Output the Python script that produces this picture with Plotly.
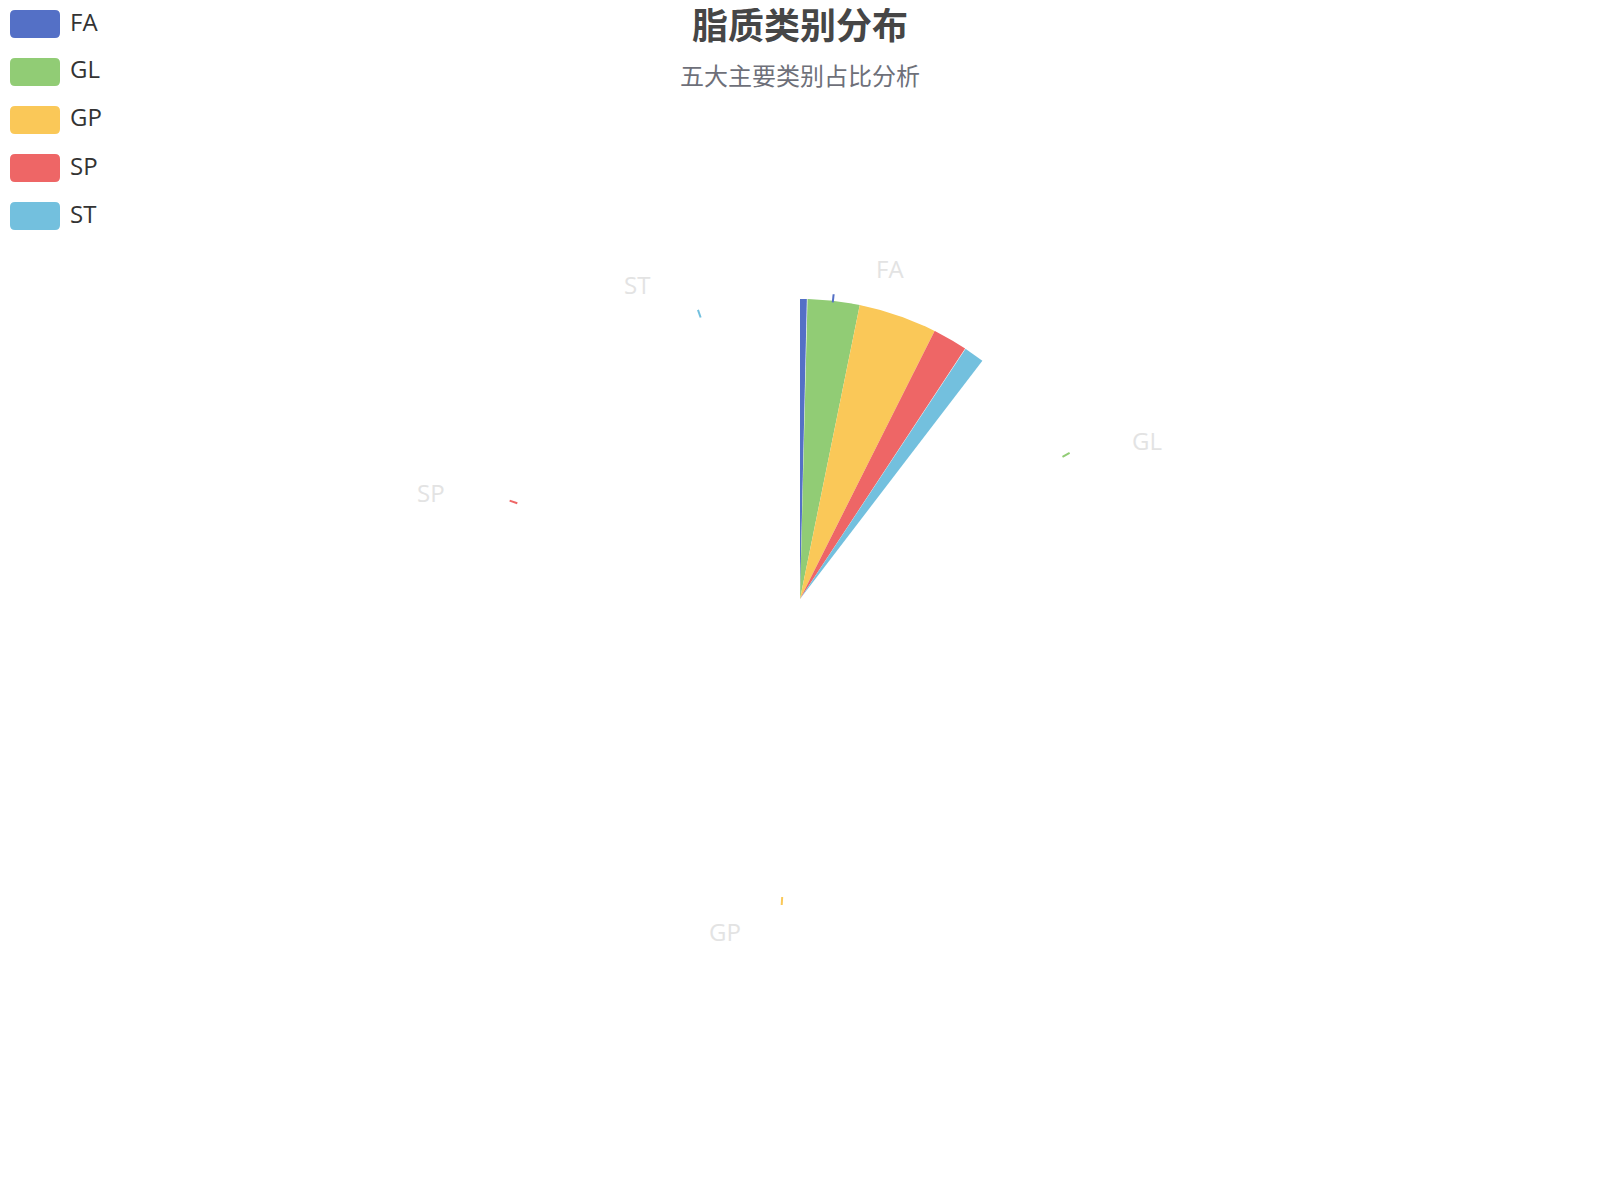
import numpy as np
import plotly.graph_objects as go

# ---------------- data ----------------
categories = ["FA", "GL", "GP", "SP", "ST"]
values = [3.5, 27.2, 40.5, 18.0, 10.8]
colors = ["#5470c6", "#91cc75", "#fac858", "#ee6666", "#73c0de"]
title_text = "脂质类别分布"
subtitle_text = "五大主要类别占比分析"

# ---------------- layout constants ----------------
W, H = 1600, 1200
PAGE_MARGIN = 8          # default body margin of the html page
R_PX = 300.0             # pie radius in pixels (1 axis unit)
CX, CY = 800, 599        # pie centre in page pixels
progress = 0.104         # sweep of the drawn sector as a fraction of the full circle
LATIN = "Open Sans, Noto Sans CJK SC, sans-serif"
CJK = "Noto Sans CJK SC, Noto Sans, sans-serif"

shares = np.array(values, dtype=float) / float(sum(values))
ends = np.cumsum(shares)
starts = ends - shares
mids = (starts + ends) / 2.0

fig = go.Figure()

# sectors (clockwise from 12 o'clock)
for i, cat in enumerate(categories):
    a0 = starts[i] * progress * 2 * np.pi
    a1 = ends[i] * progress * 2 * np.pi
    t = np.linspace(a0, a1, 80)
    xs = np.concatenate([[0.0], np.sin(t), [0.0]])
    ys = np.concatenate([[0.0], np.cos(t), [0.0]])
    fig.add_trace(go.Scatter(
        x=xs, y=ys, mode="lines", fill="toself", fillcolor=colors[i],
        line=dict(width=0, color=colors[i]), name=cat, showlegend=False,
        hoverinfo="text", text=f"{cat}: {values[i]}%"))

# label-line stubs and labels at final slice mid-angles
for i, cat in enumerate(categories):
    th = mids[i] * 2 * np.pi
    s, c = np.sin(th), np.cos(th)
    fig.add_trace(go.Scatter(
        x=[s * 0.995, s * 1.022], y=[c * 0.995, c * 1.022], mode="lines",
        line=dict(color=colors[i], width=2), showlegend=False, hoverinfo="skip"))
    side = 1 if s >= 0 else -1
    fig.add_annotation(
        x=1.11 * s + side * 0.125, y=1.11 * c, xref="x", yref="y",
        text=cat, showarrow=False, xanchor="left" if side > 0 else "right",
        yanchor="middle", font=dict(family=LATIN, size=24, color="#e3e3e3"))

# custom legend (rounded swatches)
def px_to_paper(px, py):
    return (px - PAGE_MARGIN) / W, 1 - (py - PAGE_MARGIN) / H

def rrect_path(x0, y0, x1, y1, r):
    def P(x, y):
        a, b = px_to_paper(x, y)
        return f"{a:.6f},{b:.6f}"
    return (f"M {P(x0 + r, y0)} L {P(x1 - r, y0)} Q {P(x1, y0)} {P(x1, y0 + r)} "
            f"L {P(x1, y1 - r)} Q {P(x1, y1)} {P(x1 - r, y1)} "
            f"L {P(x0 + r, y1)} Q {P(x0, y1)} {P(x0, y1 - r)} "
            f"L {P(x0, y0 + r)} Q {P(x0, y0)} {P(x0 + r, y0)} Z")

LEG_X0, LEG_Y0, LEG_STEP, SW_W, SW_H = 10, 10, 48, 50, 28
for i, cat in enumerate(categories):
    y0 = LEG_Y0 + i * LEG_STEP
    fig.add_shape(type="path", xref="paper", yref="paper",
                  path=rrect_path(LEG_X0, y0, LEG_X0 + SW_W, y0 + SW_H, 5),
                  fillcolor=colors[i], line=dict(width=0))
    xp, yp = px_to_paper(LEG_X0 + SW_W + 8, y0 + SW_H / 2 - 3)
    fig.add_annotation(x=xp, y=yp, xref="paper", yref="paper", text=cat,
                       showarrow=False, xanchor="left", yanchor="middle",
                       font=dict(family=LATIN, size=24, color="#333333"))

# titles
tx, ty = px_to_paper(800, 23)
fig.add_annotation(x=tx, y=ty, xref="paper", yref="paper",
                   text=f"<b>{title_text}</b>", showarrow=False,
                   xanchor="center", yanchor="middle",
                   font=dict(family=CJK, size=36, color="#464646"))
sx, sy = px_to_paper(800, 75)
fig.add_annotation(x=sx, y=sy, xref="paper", yref="paper",
                   text=subtitle_text, showarrow=False,
                   xanchor="center", yanchor="middle",
                   font=dict(family=CJK, size=24, color="#6e7079"))

fx, fy = CX - PAGE_MARGIN, CY - PAGE_MARGIN   # centre in figure pixels
fig.update_layout(
    width=W, height=H, margin=dict(l=0, r=0, t=0, b=0),
    paper_bgcolor="white", plot_bgcolor="white", showlegend=False,
    xaxis=dict(range=[-fx / R_PX, (W - fx) / R_PX], visible=False, fixedrange=True),
    yaxis=dict(range=[-(H - fy) / R_PX, fy / R_PX], visible=False, fixedrange=True),
)

fig.write_html("out.html")
